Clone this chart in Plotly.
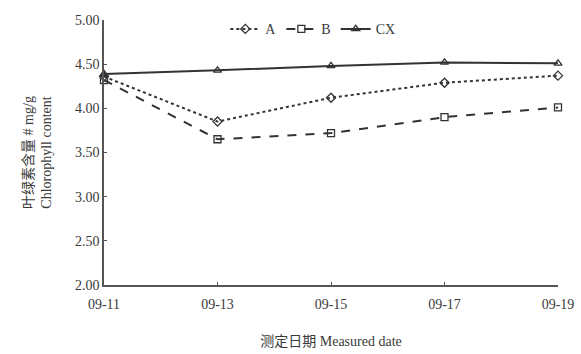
import plotly.graph_objects as go

dates = ["09-11", "09-13", "09-15", "09-17", "09-19"]
a_vals = [4.36, 3.85, 4.12, 4.29, 4.37]
b_vals = [4.32, 3.65, 3.72, 3.90, 4.01]
cx_vals = [4.39, 4.43, 4.48, 4.52, 4.51]
y_ticks = [2.0, 2.5, 3.0, 3.5, 4.0, 4.5, 5.0]

col = "#333333"
fig = go.Figure()
series = [
    ("A", a_vals, "dot", "diamond-open"),
    ("B", b_vals, "dash", "square-open"),
    ("CX", cx_vals, "solid", "triangle-up-open"),
]
for name, vals, dash, sym in series:
    fig.add_trace(go.Scatter(
        x=list(range(len(dates))), y=vals, name=name, mode="lines+markers",
        line=dict(color=col, width=2, dash=dash),
        marker=dict(symbol=sym, size=7, color=col, line=dict(width=1.3, color=col)),
        cliponaxis=False,
    ))

fig.update_layout(
    width=581, height=354,
    margin=dict(l=104, r=23, t=20, b=69, autoexpand=False),
    paper_bgcolor="white", plot_bgcolor="white",
    font=dict(family="Liberation Serif, Noto Sans CJK SC", size=14, color="#3a3a3a"),
    showlegend=True,
    legend=dict(orientation="h", x=0.46, y=0.965, xanchor="center", yanchor="middle",
                bgcolor="rgba(0,0,0,0)", font=dict(size=14), itemwidth=30),
    xaxis=dict(
        tickmode="array", tickvals=list(range(len(dates))), ticktext=dates,
        range=[0, 4], showline=True, linecolor="#555", linewidth=1.5,
        ticks="inside", ticklen=3, tickcolor="#555", showgrid=False, zeroline=False,
        automargin=False, ticklabelstandoff=5,
        title=dict(text="测定日期 Measured date", standoff=26, font=dict(size=14)),
    ),
    yaxis=dict(
        tickvals=y_ticks, ticktext=[f"{v:.2f}" for v in y_ticks],
        range=[2, 5], showline=True, linecolor="#555", linewidth=1.5,
        ticks="inside", ticklen=3, tickcolor="#555", showgrid=False, zeroline=False,
        automargin=False,
        title=dict(text="叶绿素含量 # mg/g<br>Chlorophyll content", standoff=20, font=dict(size=14)),
    ),
)
fig.write_html("out.html", config={"displayModeBar": False},
               post_script="document.body.style.margin='0';")
